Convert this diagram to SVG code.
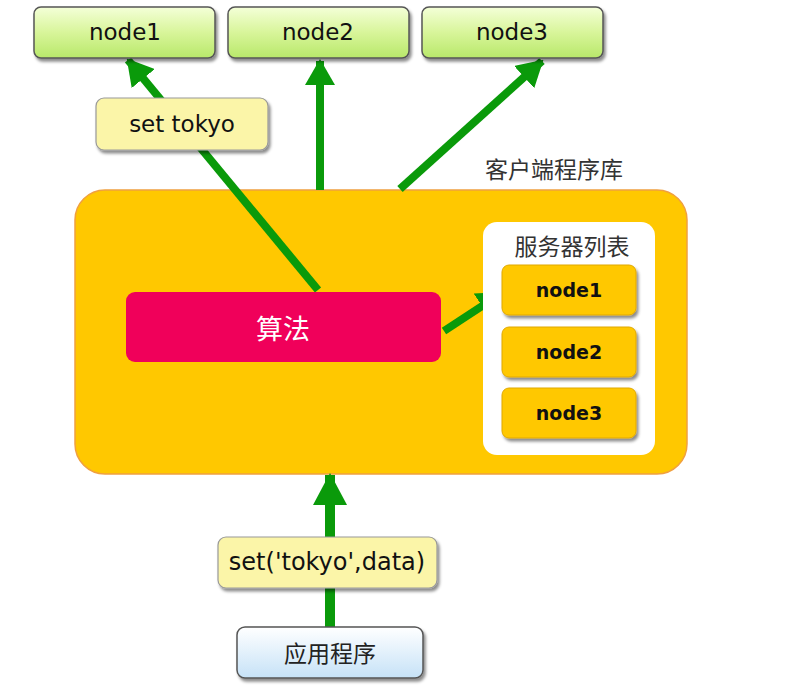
<svg xmlns="http://www.w3.org/2000/svg" width="794" height="688" viewBox="0 0 794 688">
<defs>
<linearGradient id="gGreen" x1="0" y1="0" x2="0" y2="1"><stop offset="0" stop-color="#f4ffd8"/><stop offset="0.5" stop-color="#d8f59a"/><stop offset="1" stop-color="#b8e86a"/></linearGradient>
<linearGradient id="gBlue" x1="0" y1="0" x2="0" y2="1"><stop offset="0" stop-color="#ffffff"/><stop offset="1" stop-color="#c6e2f7"/></linearGradient>
<filter id="sh" x="-10%" y="-10%" width="130%" height="140%"><feDropShadow dx="2" dy="3" stdDeviation="1.5" flood-color="#000" flood-opacity="0.45"/></filter>
<marker id="ah" markerUnits="userSpaceOnUse" viewBox="0 0 26 30" refX="24" refY="15" markerWidth="26" markerHeight="30" orient="auto"><path d="M0,0 L26,15 L0,30 Z" fill="#0a9a0a"/></marker>
<marker id="ahb" markerUnits="userSpaceOnUse" viewBox="0 0 32 34" refX="30" refY="17" markerWidth="32" markerHeight="34" orient="auto"><path d="M0,0 L32,17 L0,34 Z" fill="#0a9a0a"/></marker>
<style>
.top{fill:url(#gGreen);stroke:#555;stroke-width:1.5}
.lbl{fill:#fbf5a8;stroke:#999;stroke-width:1.2}
.srv{fill:#ffc800;stroke:#e0a800;stroke-width:1}
.t{font-family:"DejaVu Sans","Noto Sans CJK SC",sans-serif;fill:#111;text-anchor:middle;dominant-baseline:central}
.cjk{font-family:"Noto Sans CJK SC",sans-serif;text-anchor:middle;dominant-baseline:central}
.arr{stroke:#0a9a0a;stroke-width:8;fill:none;marker-end:url(#ah)}
.arrb{stroke:#0a9a0a;stroke-width:10;fill:none;marker-end:url(#ahb)}
</style>
</defs>
<rect width="794" height="688" fill="#ffffff"/>

<g id="client">
<rect x="75" y="190" width="612" height="284" rx="30" fill="#ffc800" stroke="#f0a040" stroke-width="1.5"/>
<text class="cjk" x="554" y="168" font-size="23" fill="#333">客户端程序库</text>
</g>

<g id="connectors">
<line class="arr" x1="318" y1="290" x2="128" y2="60"/>
<line class="arr" x1="320" y1="190" x2="320" y2="61"/>
<line class="arr" x1="400" y1="189" x2="542" y2="61"/>
<line class="arr" x1="444" y1="331" x2="502" y2="293"/>
<line class="arrb" x1="330" y1="627" x2="330" y2="475"/>
</g>

<g id="node1"><rect class="top" x="34" y="7" width="181" height="51" rx="7" filter="url(#sh)"/><text class="t" x="125" y="32" font-size="23">node1</text></g>
<g id="node2"><rect class="top" x="228" y="7" width="181" height="51" rx="7" filter="url(#sh)"/><text class="t" x="318" y="32" font-size="23">node2</text></g>
<g id="node3"><rect class="top" x="422" y="7" width="181" height="51" rx="7" filter="url(#sh)"/><text class="t" x="512" y="32" font-size="23">node3</text></g>

<g id="label-set-tokyo"><rect class="lbl" x="96" y="98" width="172" height="52" rx="8" filter="url(#sh)"/><text class="t" x="182" y="124" font-size="23">set tokyo</text></g>

<g id="algorithm"><rect x="126" y="292" width="315" height="70" rx="9" fill="#f0005a"/><text class="cjk" x="283" y="327" font-size="27" fill="#ffffff">算法</text></g>

<g id="server-list">
<rect x="483" y="222" width="172" height="233" rx="14" fill="#ffffff"/>
<text class="cjk" x="572" y="245" font-size="23" fill="#333">服务器列表</text>
</g>
<g id="srv-node1"><rect class="srv" x="502" y="265" width="134" height="50" rx="7" filter="url(#sh)"/><text class="t" x="569" y="290" font-size="19" font-weight="bold">node1</text></g>
<g id="srv-node2"><rect class="srv" x="502" y="327" width="134" height="50" rx="7" filter="url(#sh)"/><text class="t" x="569" y="352" font-size="19" font-weight="bold">node2</text></g>
<g id="srv-node3"><rect class="srv" x="502" y="388" width="134" height="50" rx="7" filter="url(#sh)"/><text class="t" x="569" y="413" font-size="19" font-weight="bold">node3</text></g>

<g id="label-set-data"><rect class="lbl" x="218" y="537" width="219" height="51" rx="8" filter="url(#sh)"/><text class="t" x="327" y="562" font-size="24">set('tokyo',data)</text></g>

<g id="app"><rect x="237" y="627" width="186" height="51" rx="8" fill="url(#gBlue)" stroke="#555" stroke-width="1.5" filter="url(#sh)"/><text class="cjk" x="330" y="652" font-size="23" fill="#222">应用程序</text></g>
</svg>
